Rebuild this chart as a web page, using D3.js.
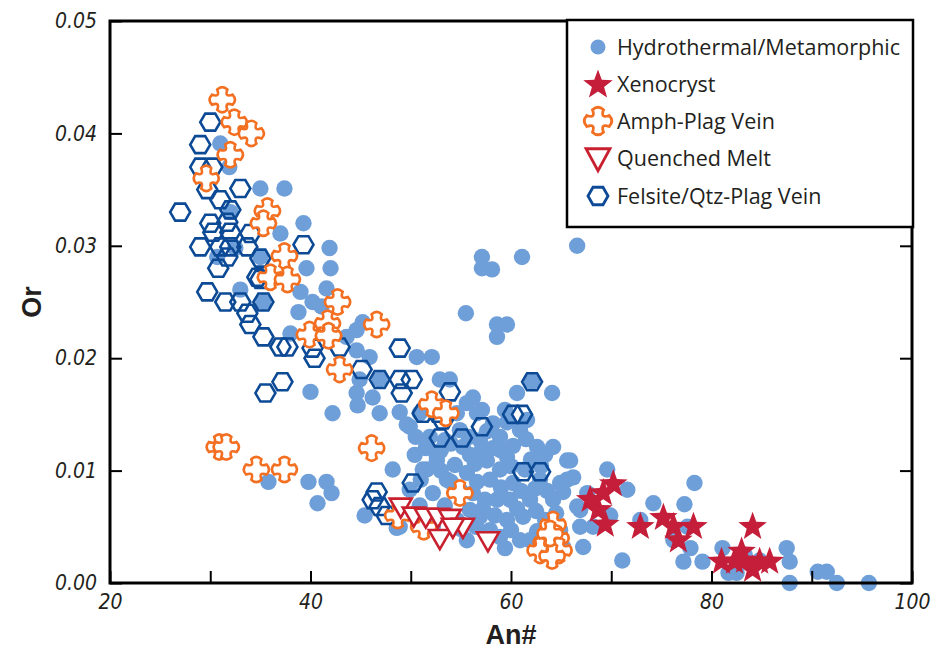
<!DOCTYPE html>
<html><head><meta charset="utf-8">
<script src="https://cdn.jsdelivr.net/npm/d3@7"></script>
<style>body{margin:0;background:#fff}svg{display:block}</style>
</head><body>
<svg id="c" width="941" height="655"></svg>
<script>
// ---- data (An#, Or) ----
const hydrothermal = [[31.0,0.0391],[31.9,0.0370],[35.0,0.0351],[37.4,0.0351],[32.0,0.0330],[37.0,0.0311],[39.3,0.0320],[32.5,0.0298],[30.7,0.0290],[35.0,0.0290],[39.6,0.0280],[42.0,0.0280],[39.0,0.0259],[41.6,0.0262],[40.2,0.0250],[38.8,0.0241],[41.1,0.0246],[45.2,0.0232],[44.6,0.0225],[43.6,0.0219],[38.0,0.0222],[45.9,0.0201],[44.6,0.0207],[44.9,0.0181],[46.9,0.0181],[50.6,0.0201],[52.1,0.0201],[52.9,0.0181],[53.9,0.0181],[40.0,0.0170],[42.2,0.0151],[46.9,0.0151],[50.9,0.0151],[54.6,0.0151],[56.2,0.0165],[44.6,0.0169],[46.2,0.0165],[35.3,0.0250],[33.0,0.0261],[41.9,0.0298],[57.1,0.0290],[57.1,0.0280],[58.1,0.0279],[61.1,0.0290],[66.6,0.0300],[55.5,0.0240],[58.6,0.0230],[59.6,0.0230],[58.6,0.0219],[60.6,0.0169],[64.1,0.0169],[55.6,0.0160],[57.1,0.0154],[62.1,0.0179],[44.7,0.0158],[49.9,0.0139],[48.2,0.0101],[51.6,0.0101],[52.6,0.0112],[45.4,0.0060],[48.6,0.0049],[35.8,0.0090],[39.8,0.0090],[41.6,0.0090],[42.1,0.0080],[40.7,0.0071],
[69.6,0.0101],[71.6,0.0083],[74.2,0.0071],[71.1,0.0020],[65.9,0.0109],[64.2,0.0121],[65.6,0.0092],[67.6,0.0080],[66.9,0.0065],[68.2,0.0050],[78.3,0.0089],[77.3,0.0070],[77.6,0.0050],[77.9,0.0031],[77.2,0.0019],[79.1,0.0019],[81.1,0.0031],[81.7,0.0009],[82.5,0.0009],[87.5,0.0031],[87.8,0.0019],[87.8,0.0000],[90.6,0.0010],[91.5,0.0010],[92.5,0.0000],[95.7,0.0000],[76.2,0.0038],[72.9,0.0056],[69.9,0.0060],[84.8,0.0020],[83.3,0.0025],
[56.6,0.0151],[49.6,0.0141],[51.9,0.0130],[58.2,0.0142],[58.9,0.0130],[62.6,0.0121],[65.6,0.0109],[52.6,0.0109],[51.2,0.0101],[53.6,0.0092],[55.6,0.0098],[57.6,0.0109],[59.6,0.0112],[60.2,0.0089],[64.9,0.0089],[66.2,0.0094],[52.2,0.0080],[56.2,0.0080],[58.6,0.0074],[61.9,0.0074],[64.2,0.0074],[66.6,0.0068],[48.9,0.0050],[52.2,0.0050],[54.6,0.0056],[56.9,0.0059],[59.6,0.0056],[61.2,0.0059],[58.9,0.0041],[60.9,0.0038],[55.6,0.0038],[66.9,0.0050],[67.2,0.0032],[65.2,0.0032],[53.4,0.0127],[54.9,0.0136],[56.9,0.0127],[59.4,0.0154],[60.9,0.0136],[55.9,0.0114],[54.4,0.0105],[57.9,0.0092],[61.4,0.0101],[62.9,0.0092],[63.4,0.0056],[59.9,0.0074],[57.9,0.0047],[53.4,0.0069],[50.9,0.0069],[49.9,0.0083],[55.9,0.0065],[61.9,0.0038],[50.4,0.0114],[63.4,0.0114],[54.9,0.0083],[57.4,0.0074],[58.9,0.0101],[59.4,0.0031],[48.9,0.0152],[64.9,0.0047],
[53.0,0.0118],[54.0,0.0124],[55.2,0.0121],[56.4,0.0106],[57.0,0.0117],[58.2,0.0120],[59.0,0.0118],[60.2,0.0122],[61.5,0.0128],[60.0,0.0104],[62.0,0.0110],[63.0,0.0104],[61.0,0.0082],[62.4,0.0084],[63.6,0.0082],[65.2,0.0081],[60.6,0.0066],[62.5,0.0064],[64.5,0.0062],[55.0,0.0048],[56.5,0.0050],[54.0,0.0090],[51.0,0.0092],[53.0,0.0100],[56.6,0.0090],[59.0,0.0085],[57.2,0.0066],[58.4,0.0060],[60.0,0.0047],[62.6,0.0046],[51.5,0.0120],[50.5,0.0130],[55.8,0.0130],[57.6,0.0135],[59.6,0.0143],[61.6,0.0145]];

const xenocryst = [[70.2,0.0088],[69.2,0.0080],[67.9,0.0074],[68.7,0.0065],[69.4,0.0052],[72.9,0.0050],[75.2,0.0058],[76.2,0.0050],[76.7,0.0038],[78.2,0.0050],[81.0,0.0019],[82.3,0.0019],[83.0,0.0028],[84.1,0.0050],[84.1,0.0012],[84.8,0.0019],[85.8,0.0019],[83.3,0.0020]];

const amphPlag = [[31.2,0.0430],[32.4,0.0410],[34.1,0.0400],[32.0,0.0381],[29.6,0.0360],[35.7,0.0331],[35.3,0.0320],[37.4,0.0291],[36.0,0.0272],[37.7,0.0270],[42.7,0.0250],[41.7,0.0231],[39.9,0.0221],[41.8,0.0220],[46.6,0.0230],[42.9,0.0190],[52.1,0.0159],[53.5,0.0151],[46.1,0.0120],[54.9,0.0080],[48.7,0.0060],[51.3,0.0050],[30.9,0.0121],[31.6,0.0121],[34.6,0.0101],[37.4,0.0101],[64.2,0.0052],[64.5,0.0040],[63.5,0.0036],[62.9,0.0029],[64.8,0.0029],[64.1,0.0024],[63.9,0.0044]];

const quenchedMelt = [[49.0,0.0068],[50.3,0.0060],[51.5,0.0059],[52.7,0.0059],[53.9,0.0058],[52.9,0.0040],[55.2,0.0050],[54.2,0.0050],[57.7,0.0038]];

const felsite = [[30.0,0.0410],[29.0,0.0390],[29.0,0.0370],[30.2,0.0370],[29.7,0.0350],[33.0,0.0351],[31.0,0.0341],[27.0,0.0330],[32.0,0.0332],[30.0,0.0320],[31.7,0.0321],[32.0,0.0312],[30.3,0.0312],[34.0,0.0311],[29.0,0.0299],[31.0,0.0299],[32.0,0.0299],[33.7,0.0299],[30.8,0.0280],[31.7,0.0290],[35.0,0.0289],[34.7,0.0272],[35.0,0.0270],[29.7,0.0259],[31.5,0.0250],[33.0,0.0250],[35.3,0.0250],[33.7,0.0240],[34.0,0.0230],[35.3,0.0219],[37.0,0.0210],[37.7,0.0210],[39.3,0.0301],[40.2,0.0209],[40.4,0.0200],[42.9,0.0210],[48.9,0.0209],[45.1,0.0190],[46.9,0.0181],[48.9,0.0181],[50.1,0.0181],[49.1,0.0169],[53.9,0.0170],[51.2,0.0151],[52.7,0.0151],[35.5,0.0169],[37.2,0.0179],[62.1,0.0179],[53.2,0.0145],[57.1,0.0139],[52.9,0.0129],[55.1,0.0129],[60.2,0.0150],[61.1,0.0150],[61.2,0.0099],[62.9,0.0099],[50.2,0.0089],[46.6,0.0081],[46.2,0.0074],[46.9,0.0068],[47.6,0.0060]];

const xTicks = [20,30,40,50,60,70,80,90,100];
const xLabels = [20,40,60,80,100];
const yTicks = [0,0.01,0.02,0.03,0.04,0.05];
const legendLabels = ["Hydrothermal/Metamorphic","Xenocryst","Amph-Plag Vein","Quenched Melt","Felsite/Qtz-Plag Vein"];

// ---- styles ----
const C_CIRCLE = "#6f9fd8", C_STAR = "#c41e3a", C_CROSS = "#f36f21", C_TRI = "#c8202f", C_HEX = "#0c4a96";
const tickFont = "'Liberation Sans Narrow','DejaVu Sans Condensed',sans-serif";

const svg = d3.select("#c");
const L = 110, R = 912, T = 21, B = 583;
const x = d3.scaleLinear().domain([20,100]).range([L,R]);
const y = d3.scaleLinear().domain([0,0.05]).range([B,T]);

// symbol paths
function hexPath(w,h){const a=w/2,b=h/2,c=w/4;return `M${-a},0L${-c},${-b}L${c},${-b}L${a},0L${c},${b}L${-c},${b}Z`;}
function crossPath(s){const a=4.6*s,Lh=11.5*s,b=1.8*s,k=2.2*s;
  return `M${-a},${-Lh+k}Q0,${-Lh-k} ${a},${-Lh+k}Q${b},${-b} ${Lh-k},${-a}Q${Lh+k},0 ${Lh-k},${a}Q${b},${b} ${a},${Lh-k}Q0,${Lh+k} ${-a},${Lh-k}Q${-b},${b} ${-Lh+k},${a}Q${-Lh-k},0 ${-Lh+k},${-a}Q${-b},${-b} ${-a},${-Lh+k}Z`;}
function triPath(w,h){return `M${-w/2},${-h*0.42}L${w/2},${-h*0.42}L0,${h*0.58}Z`;}
function starPath(Ro,Ri){let p="";for(let i=0;i<10;i++){const r=i%2?Ri:Ro;const ang=-Math.PI/2+i*Math.PI/5;p+=(i?"L":"M")+(r*Math.cos(ang)).toFixed(2)+","+(r*Math.sin(ang)).toFixed(2);}return p+"Z";}

const g = svg.append("g");
g.selectAll("circle.h").data(hydrothermal).join("circle").attr("class","h")
  .attr("cx",d=>x(d[0])).attr("cy",d=>y(d[1])).attr("r",8.2).attr("fill",C_CIRCLE);
g.selectAll("path.hx").data(felsite).join("path").attr("class","hx")
  .attr("d",hexPath(20,17)).attr("transform",d=>`translate(${x(d[0])},${y(d[1])})`)
  .attr("fill","none").attr("stroke",C_HEX).attr("stroke-width",2.6);
g.selectAll("path.cr").data(amphPlag).join("path").attr("class","cr")
  .attr("d",crossPath(1.1)).attr("transform",d=>`translate(${x(d[0])},${y(d[1])})`)
  .attr("fill","#fff").attr("stroke",C_CROSS).attr("stroke-width",2.6);
g.selectAll("path.tr").data(quenchedMelt).join("path").attr("class","tr")
  .attr("d",triPath(22,19)).attr("transform",d=>`translate(${x(d[0])},${y(d[1])})`)
  .attr("fill","#fff").attr("stroke",C_TRI).attr("stroke-width",2.6);
g.selectAll("path.st").data(xenocryst).join("path").attr("class","st")
  .attr("d",starPath(15,6.2)).attr("transform",d=>`translate(${x(d[0])},${y(d[1])})`)
  .attr("fill",C_STAR);

// axes
const xa = svg.append("g").attr("transform",`translate(0,${B})`)
  .call(d3.axisBottom(x).tickValues(xTicks).tickSizeInner(-12).tickSizeOuter(0).tickPadding(11)
    .tickFormat(d=>xLabels.includes(d)?d:""));
const ya = svg.append("g").attr("transform",`translate(${L},0)`)
  .call(d3.axisLeft(y).tickValues(yTicks).tickSizeInner(-12).tickSizeOuter(0).tickPadding(13)
    .tickFormat(d3.format(".2f")));
const yr = svg.append("g").attr("transform",`translate(${R},0)`)
  .call(d3.axisRight(y).tickValues(yTicks).tickSizeInner(-12).tickSizeOuter(0).tickFormat(""));
[xa,ya,yr].forEach(a=>{a.select(".domain").remove();
  a.selectAll(".tick line").attr("stroke","#000").attr("stroke-width",2);
  a.selectAll(".tick text").attr("font-family",tickFont).attr("font-style","italic").attr("font-size",21).attr("fill","#231f20");});

svg.append("rect").attr("x",L).attr("y",T).attr("width",R-L).attr("height",B-T)
  .attr("fill","none").attr("stroke","#000").attr("stroke-width",3);

// axis titles
svg.append("text").attr("x",(L+R)/2).attr("y",644).attr("text-anchor","middle")
  .attr("font-family","'Liberation Sans',Arial,sans-serif").attr("font-weight","bold").attr("font-size",27).attr("fill","#231f20").text("An#");
svg.append("text").attr("transform",`translate(41,${(T+B)/2}) rotate(-90)`).attr("text-anchor","middle")
  .attr("font-family","'Liberation Sans',Arial,sans-serif").attr("font-weight","bold").attr("font-size",27).attr("fill","#231f20").text("Or");

// legend
const lg = svg.append("g");
lg.append("rect").attr("x",567).attr("y",20).attr("width",346).attr("height",207)
  .attr("fill","#fff").attr("stroke","#000").attr("stroke-width",2.5);
const rows = [47,84,121,158,196], ix = 598;
lg.append("circle").attr("cx",ix).attr("cy",rows[0]).attr("r",7.5).attr("fill",C_CIRCLE);
lg.append("path").attr("d",starPath(15.5,6.4)).attr("transform",`translate(${ix},${rows[1]+1})`).attr("fill",C_STAR);
lg.append("path").attr("d",crossPath(1.2)).attr("transform",`translate(${ix},${rows[2]})`).attr("fill","#fff").attr("stroke",C_CROSS).attr("stroke-width",2.8);
lg.append("path").attr("d",triPath(24,22)).attr("transform",`translate(${ix},${rows[3]})`).attr("fill","#fff").attr("stroke",C_TRI).attr("stroke-width",2.8);
lg.append("path").attr("d",hexPath(20,17.5)).attr("transform",`translate(${ix},${rows[4]})`).attr("fill","none").attr("stroke",C_HEX).attr("stroke-width",2.8);
lg.selectAll("text").data(legendLabels).join("text")
  .attr("x",617).attr("y",(d,i)=>rows[i]).attr("dy","0.35em")
  .attr("font-family","'Open Sans',sans-serif").attr("font-size",21.5).attr("fill","#231f20").text(d=>d);
</script>
</body></html>
